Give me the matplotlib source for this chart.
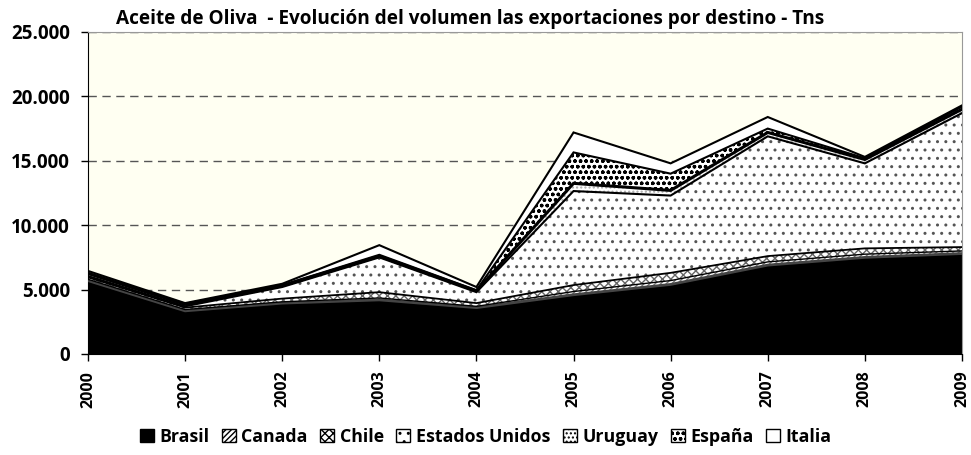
import numpy as np
import matplotlib.pyplot as plt
from matplotlib.patches import Patch
from matplotlib.ticker import FuncFormatter

plt.rcParams['font.family'] = ['Open Sans', 'DejaVu Sans']
plt.rcParams['hatch.linewidth'] = 1.0

years = [2000, 2001, 2002, 2003, 2004, 2005, 2006, 2007, 2008, 2009]
brasil = [5700, 3350, 3950, 4200, 3600, 4600, 5400, 6900, 7500, 7800]
canada = [100, 100, 100, 150, 100, 250, 300, 250, 250, 200]
chile = [150, 150, 250, 450, 250, 500, 600, 450, 450, 300]
eeuu = [100, 100, 900, 2700, 850, 7300, 6000, 9300, 6600, 10400]
uruguay = [200, 150, 100, 100, 100, 600, 400, 300, 300, 300]
espana = [50, 50, 50, 100, 50, 2400, 1300, 300, 100, 200]
italia = [150, 50, 100, 750, 250, 1550, 800, 900, 100, 100]

names = ['Brasil', 'Canada', 'Chile', 'Estados Unidos', 'Uruguay', 'España', 'Italia']
series = [brasil, canada, chile, eeuu, uruguay, espana, italia]
faces = ['black', 'white', 'white', 'white', 'white', 'white', 'white']
hatches = [None, '//////', 'xxxx', '..', '....', 'ooo', None]
hcolors = ['black', '#777777', '#666666', '#555555', '#aaaaaa', 'black', 'black']
lcolors = ['#444444', 'black', 'black', 'black', 'black', 'black', 'black']
lwidths = [2.0, 1.0, 1.3, 1.5, 2.2, 1.5, 1.5]

fig = plt.figure(figsize=(9.71, 4.55), dpi=100)
ax = fig.add_axes([0.0906, 0.222, 0.9001, 0.7077])
ax.set_facecolor('#FFFFF2')
ax.set_axisbelow(True)

base = np.zeros(len(years))
handles = []
for vals, name, fc, h, hc in zip(series, names, faces, hatches, hcolors):
    top = base + np.array(vals)
    ax.fill_between(years, base, top, facecolor=fc, edgecolor=hc, hatch=h, linewidth=0, zorder=2)
    handles.append(Patch(facecolor=fc, edgecolor='black', hatch=h, linewidth=1, label=name))
    base = top
base = np.zeros(len(years))
for vals, lc, lw in zip(series, lcolors, lwidths):
    base = base + np.array(vals)
    ax.plot(years, base, color=lc, linewidth=lw, zorder=3, solid_joinstyle='miter')

ax.set_xlim(2000, 2009)
ax.set_ylim(0, 25000)
ax.set_yticks(np.arange(0, 25001, 5000))
ax.yaxis.set_major_formatter(FuncFormatter(lambda v, p: f'{int(v):,}'.replace(',', '.')))
ax.set_xticks(years)
ax.set_xticklabels([str(y) for y in years], rotation=90, fontweight='bold', fontsize=11.5)
for t in ax.get_yticklabels():
    t.set_fontweight('bold')
    t.set_fontsize(13.5)
ax.tick_params(axis='both', direction='out', length=5, width=1, color='black')
ax.tick_params(axis='x', pad=7)
ax.tick_params(axis='y', pad=8)
ax.grid(axis='y', linestyle=(0, (6, 4)), color='#555555', linewidth=1)

ax.spines['left'].set_color('black')
ax.spines['bottom'].set_color('black')
ax.spines['top'].set_color('#999999')
ax.spines['right'].set_color('#999999')

fig.text(0.484, 0.958, 'Aceite de Oliva  - Evolución del volumen las exportaciones por destino - Tns',
         ha='center', va='center', fontsize=13.7, fontweight='bold')

fig.legend(handles=handles, loc='center', bbox_to_anchor=(0.5, 0.04), ncol=7,
           frameon=False, prop={'weight': 'bold', 'size': 12.8}, handlelength=0.8,
           handleheight=0.8, handletextpad=0.3, columnspacing=0.7)

fig.savefig('out.png', dpi=100)
